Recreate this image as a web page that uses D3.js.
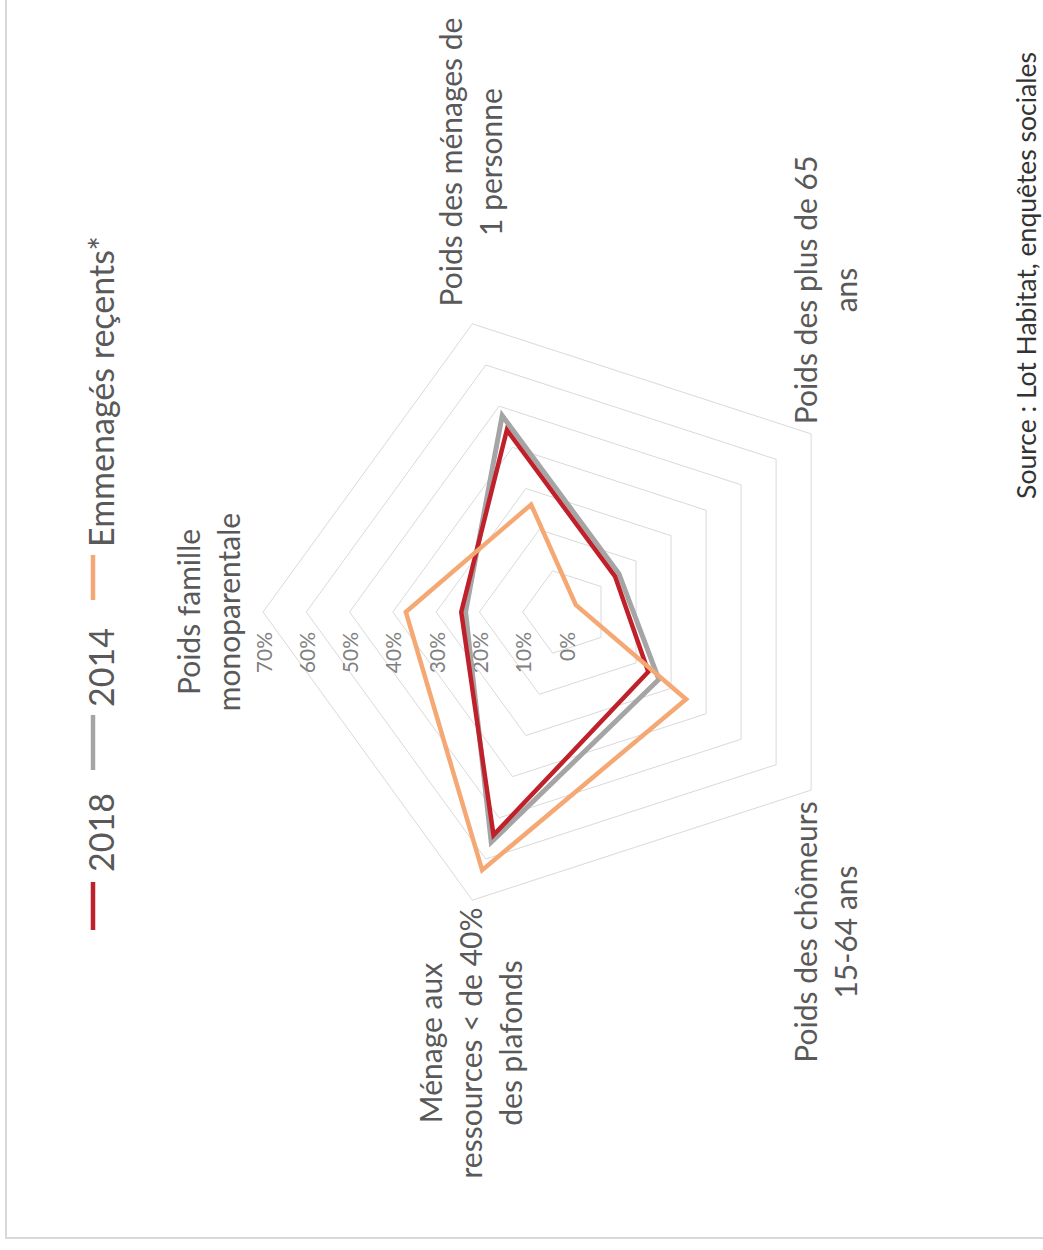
<!DOCTYPE html>
<html>
<head>
<meta charset="utf-8">
<script src="https://cdn.jsdelivr.net/npm/d3@7"></script>
<style>
  html, body { margin: 0; padding: 0; background: #fff; }
  svg { display: block; }
</style>
</head>
<body>
<script>
// ---------- DATA ----------
const categories = [
  "Poids famille monoparentale",
  "Poids des ménages de 1 personne",
  "Poids des plus de 65 ans",
  "Poids des chômeurs 15-64 ans",
  "Ménage aux ressources < de 40% des plafonds"
];
const categoryLines = [
  ["Poids famille", "monoparentale"],
  ["Poids des ménages de", "1 personne"],
  ["Poids des plus de 65", "ans"],
  ["Poids des chômeurs", "15-64 ans"],
  ["Ménage aux", "ressources < de 40%", "des plafonds"]
];
const seriesNames = ["2018", "2014", "Emmenagés reçents*"];
const values2018 = [0.242, 0.442, 0.140, 0.235, 0.542];
const values2014 = [0.232, 0.477, 0.151, 0.265, 0.559];
const valuesEmm  = [0.370, 0.261, 0.028, 0.343, 0.627];
const tickValues = [0, 0.1, 0.2, 0.3, 0.4, 0.5, 0.6, 0.7];
const tickLabels = ["0%", "10%", "20%", "30%", "40%", "50%", "60%", "70%"];
const sourceText = "Source : Lot Habitat, enquêtes sociales";

// ---------- LAYOUT ----------
const W = 1043, H = 1250;
const FONT = "Lato, 'Open Sans', sans-serif";
const colors = { "2018": "#C0202A", "2014": "#A5A5A5", "Emmenagés reçents*": "#F5A874" };

const svg = d3.select("body").append("svg").attr("width", W).attr("height", H);

// frame
svg.append("rect").attr("x", 6).attr("y", -10).attr("width", W + 20).attr("height", 1248)
  .attr("fill", "none").attr("stroke", "#d9d9d9").attr("stroke-width", 2);

// unrotated drawing frame (1250 wide x 1043 tall), rotated -90deg
const g = svg.append("g").attr("transform", `translate(0,${H}) rotate(-90)`);

const cx = 638, cy = 566;
const r = d3.scaleLinear().domain([0, 0.7]).range([0, 303]);
const angle = d3.scaleLinear().domain([0, categories.length]).range([0, 2 * Math.PI]);
const pt = (i, v) => [cx + r(v) * Math.sin(angle(i)), cy - r(v) * Math.cos(angle(i))];

// grid pentagons
tickValues.filter(v => v > 0).forEach(v => {
  g.append("path")
    .attr("d", d3.line()(categories.map((c, i) => pt(i, v))) + "Z")
    .attr("fill", "none").attr("stroke", "#d9d9d9").attr("stroke-width", 1);
});

// tick labels
g.selectAll("text.tick").data(tickValues).join("text")
  .attr("class", "tick")
  .attr("x", cx - 20).attr("y", d => cy - r(d))
  .attr("text-anchor", "end").attr("dominant-baseline", "central")
  .attr("font-family", FONT).attr("font-size", 21).attr("fill", "#808080")
  .text((d, i) => tickLabels[i]);

// series
const series = [
  { name: "2014", values: values2014, w: 5 },
  { name: "2018", values: values2018, w: 4.5 },
  { name: "Emmenagés reçents*", values: valuesEmm, w: 4.5 }
];
const radial = d3.lineRadial().angle((d, i) => angle(i)).radius(d => r(d)).curve(d3.curveLinearClosed);
series.forEach(s => {
  g.append("path")
    .attr("transform", `translate(${cx},${cy})`)
    .attr("d", radial(s.values))
    .attr("fill", "none").attr("stroke", colors[s.name])
    .attr("stroke-width", s.w).attr("stroke-linejoin", "miter");
});

// category labels
const labelPos = [
  { x: 638, y: 208 },
  { x: 1088, y: 470 },
  { x: 960, y: 825 },
  { x: 318, y: 825 },
  { x: 207, y: 470 }
];
categoryLines.forEach((lines, i) => {
  const p = labelPos[i];
  const lh = 40;
  const t = g.append("text").attr("text-anchor", "middle")
    .attr("font-family", FONT).attr("font-size", 30).attr("fill", "#595959");
  lines.forEach((ln, j) => {
    t.append("tspan").attr("x", p.x)
      .attr("y", p.y + (j - (lines.length - 1) / 2) * lh)
      .attr("dominant-baseline", "central").text(ln);
  });
});

// legend
const legendItems = [
  { name: "2018", x0: 320, x1: 368, tx: 378 },
  { name: "2014", x0: 480, x1: 535, tx: 543 },
  { name: "Emmenagés reçents*", x0: 650, x1: 695, tx: 703 }
];
legendItems.forEach(it => {
  g.append("line").attr("x1", it.x0).attr("x2", it.x1).attr("y1", 93).attr("y2", 93)
    .attr("stroke", colors[it.name]).attr("stroke-width", 4.5);
  g.append("text").attr("x", it.tx).attr("y", 100).attr("dominant-baseline", "central")
    .attr("font-family", FONT).attr("font-size", 34).attr("fill", "#595959").text(it.name);
});

// source
g.append("text").attr("x", 1198).attr("y", 1026).attr("text-anchor", "end")
  .attr("dominant-baseline", "central")
  .attr("font-family", FONT).attr("font-size", 26.5).attr("fill", "#333333").text(sourceText);
</script>
</body>
</html>
